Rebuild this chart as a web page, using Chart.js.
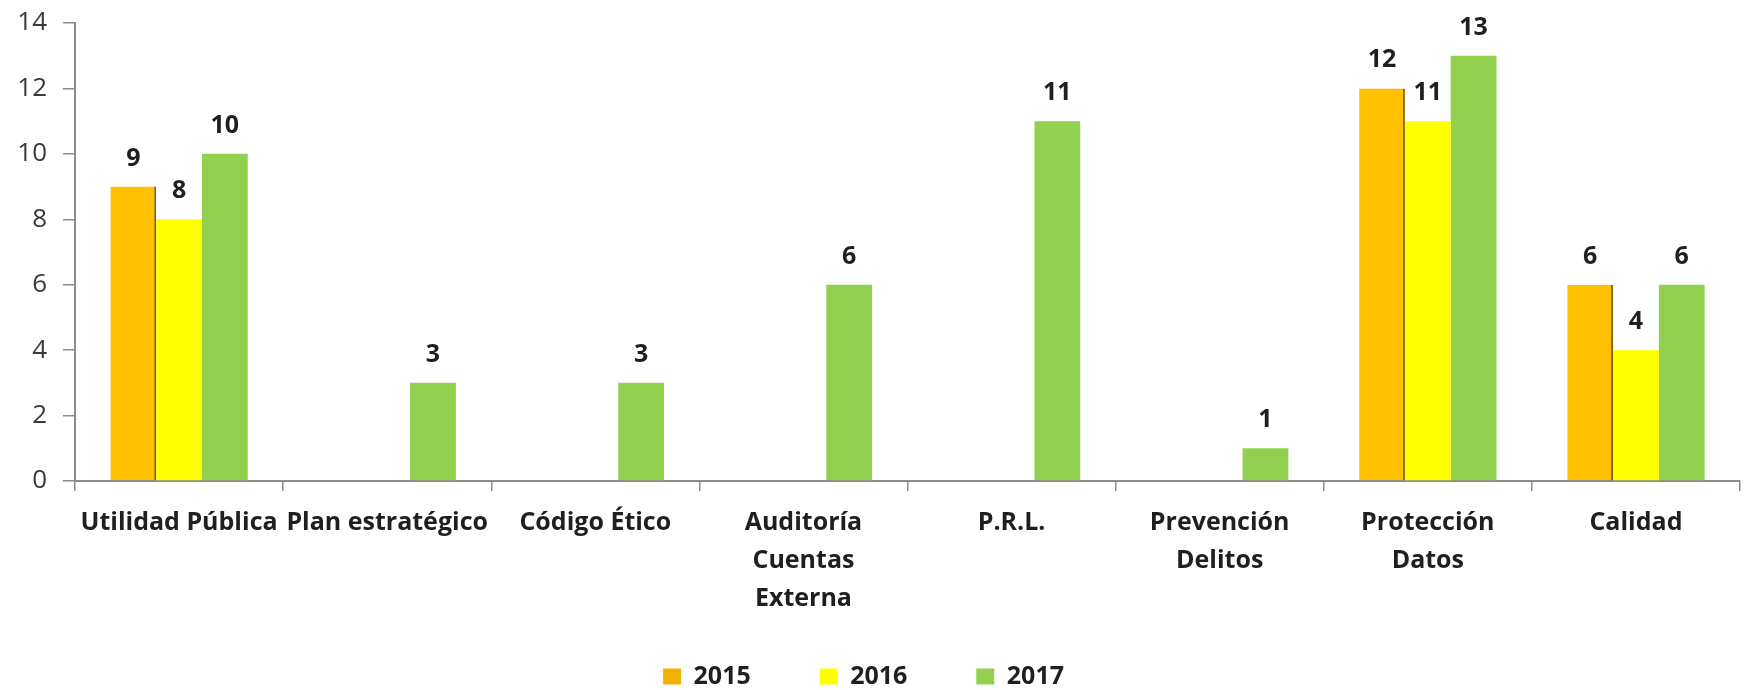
<!DOCTYPE html>
<html>
<head>
<meta charset="utf-8">
<script src="https://cdn.jsdelivr.net/npm/chart.js@4.4.1/dist/chart.umd.min.js"></script>
<style>
  html, body { margin: 0; padding: 0; background: #ffffff; }
  #wrap { width: 1750px; height: 690px; }
</style>
</head>
<body>
<div id="wrap"><canvas id="chart" width="1750" height="690"></canvas></div>
<script>
const categories = [
    'Utilidad Pública',
    'Plan estratégico',
    'Código Ético',
    ['Auditoría', 'Cuentas', 'Externa'],
    'P.R.L.',
    ['Prevención', 'Delitos'],
    ['Protección', 'Datos'],
    'Calidad'
];
const years = ['2015', '2016', '2017'];
const values2015 = [9, null, null, null, null, null, 12, 6];
const values2016 = [8, null, null, null, null, null, 11, 4];
const values2017 = [10, 3, 3, 6, 11, 1, 13, 6];
const yTicks = [0, 2, 4, 6, 8, 10, 12, 14];

const FONT = '"Open Sans", Lato, sans-serif';

// horizontal shaded fill, like the bevelled bars of the original
function shade(stops) {
    return function(context) {
        const el = context.element;
        const area = context.chart.chartArea;
        if (!el || !area || el.width === undefined) return stops[1];
        const left = el.x - el.width / 2;
        const g = context.chart.ctx.createLinearGradient(left, 0, left + el.width, 0);
        g.addColorStop(0, stops[0]);
        g.addColorStop(0.15, stops[1]);
        g.addColorStop(0.85, stops[1]);
        g.addColorStop(1, stops[2]);
        return g;
    };
}

const valueLabels = {
    id: 'valueLabels',
    afterDatasetsDraw(chart) {
        const ctx = chart.ctx;
        ctx.save();
        ctx.font = 'bold 25px ' + FONT;
        ctx.fillStyle = '#1f1f1f';
        ctx.textAlign = 'center';
        ctx.textBaseline = 'alphabetic';
        chart.data.datasets.forEach((ds, i) => {
            const meta = chart.getDatasetMeta(i);
            meta.data.forEach((bar, j) => {
                const v = ds.data[j];
                if (v === null || v === undefined) return;
                ctx.fillText(String(v), bar.x, bar.y - 21);
            });
        });
        ctx.restore();
    }
};

// legend items are spaced out with trailing blanks so the row stays low
const legendGap = ' '.repeat(10);

const chart = new Chart(document.getElementById('chart').getContext('2d'), {
    type: 'bar',
    data: {
        labels: categories,
        datasets: [
            {
                label: years[0],
                data: values2015,
                backgroundColor: shade(['#F2A900', '#FFC000', '#C98A00']),
                borderColor: '#8C6400',
                borderWidth: { left: 0, right: 2, top: 0, bottom: 0 },
                borderSkipped: false
            },
            {
                label: years[1],
                data: values2016,
                backgroundColor: shade(['#F0F000', '#FFFF00', '#E6E600']),
                borderWidth: 0
            },
            {
                label: years[2],
                data: values2017,
                backgroundColor: shade(['#8CC84A', '#92D050', '#86C246']),
                borderWidth: 0
            }
        ]
    },
    options: {
        responsive: false,
        animation: false,
        layout: { padding: { top: 23, right: 10, left: 0, bottom: -9 } },
        categoryPercentage: 0.66,
        barPercentage: 1.0,
        plugins: {
            legend: {
                position: 'bottom',
                labels: {
                    color: '#1f1f1f',
                    font: { family: FONT, size: 25, weight: 'bold' },
                    boxWidth: 18,
                    boxHeight: 16,
                    padding: 4,
                    generateLabels(chart) {
                        const fills = ['#F2B000', '#FFFF00', '#92D050'];
                        const n = chart.data.datasets.length;
                        return chart.data.datasets.map((ds, i) => ({
                            text: ds.label + (i < n - 1 ? legendGap : '  '),
                            fillStyle: fills[i],
                            strokeStyle: fills[i],
                            lineWidth: 0,
                            datasetIndex: i,
                            fontColor: '#1f1f1f'
                        }));
                    }
                }
            },
            tooltip: { enabled: false }
        },
        scales: {
            x: {
                grid: {
                    display: true,
                    drawOnChartArea: false,
                    drawTicks: true,
                    tickLength: 10,
                    color: '#8c8c8c',
                    lineWidth: 1.5
                },
                border: { display: true, color: '#8c8c8c', width: 2 },
                ticks: {
                    color: '#1f1f1f',
                    font: { family: FONT, size: 25, weight: 'bold', lineHeight: 1.52 },
                    padding: 13,
                    maxRotation: 0,
                    autoSkip: false
                },
                afterFit(scale) { scale.height = 179; }
            },
            y: {
                min: 0,
                max: 14,
                afterBuildTicks(scale) {
                    scale.ticks = yTicks.map(v => ({ value: v }));
                },
                grid: {
                    display: true,
                    drawOnChartArea: false,
                    drawTicks: true,
                    tickLength: 12,
                    color: '#8c8c8c',
                    lineWidth: 1.5
                },
                border: { display: true, color: '#8c8c8c', width: 2 },
                ticks: {
                    color: '#3a3a3a',
                    font: { family: FONT, size: 26 },
                    padding: 16
                },
                afterFit(scale) {
                    scale.width = 75;
                    scale.paddingTop = 0;
                    scale.paddingBottom = 0;
                }
            }
        }
    },
    plugins: [valueLabels]
});
</script>
</body>
</html>
